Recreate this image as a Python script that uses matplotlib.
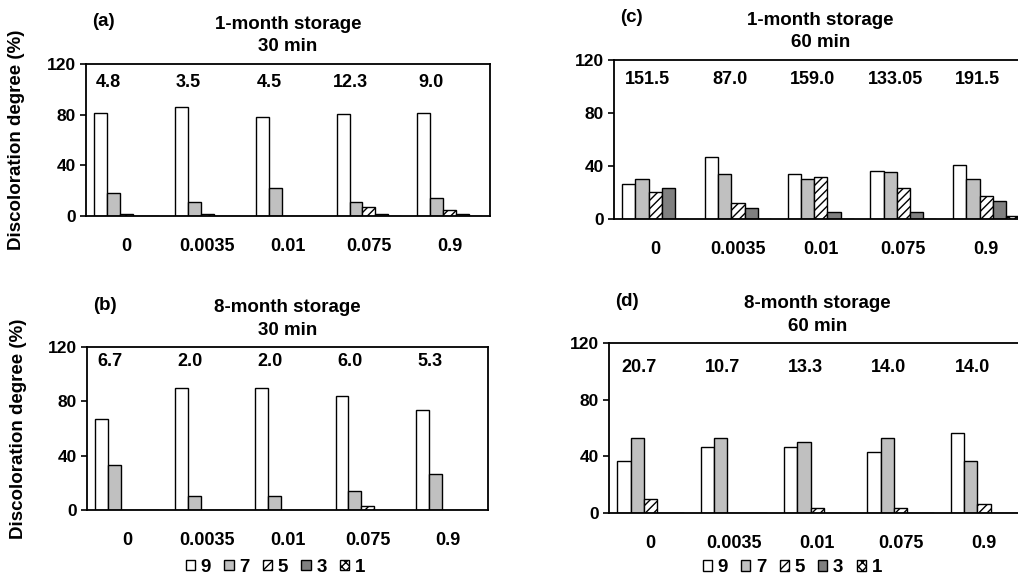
import numpy as np
import matplotlib.pyplot as plt

plt.rcParams['font.family'] = ['Liberation Sans', 'DejaVu Sans']
plt.rcParams['font.weight'] = 'bold'
plt.rcParams['hatch.linewidth'] = 1.0

cats = ['0', '0.0035', '0.01', '0.075', '0.9']
grades = ['9', '7', '5', '3', '1']

# (a) 1-month storage, 30 min
a9 = [81.5, 86, 78, 80.5, 81.5]
a7 = [18, 11, 22, 11, 14]
a5 = [1.5, 1.5, 0, 7, 4.5]
a3 = [0, 0, 0, 1.5, 1.5]
a1 = [0, 0, 0, 0, 0]
a_top = ['4.8', '3.5', '4.5', '12.3', '9.0']

# (b) 8-month storage, 30 min
b9 = [67.3, 90, 90, 83.7, 73.5]
b7 = [33, 10, 10, 14, 26.5]
b5 = [0, 0, 0, 3.3, 0]
b3 = [0, 0, 0, 0, 0]
b1 = [0, 0, 0, 0, 0]
b_top = ['6.7', '2.0', '2.0', '6.0', '5.3']

# (c) 1-month storage, 60 min
c9 = [26.5, 47, 34, 36.5, 40.5]
c7 = [30, 34, 30, 35.5, 30]
c5 = [20, 12, 31.5, 23.5, 17.5]
c3 = [23.5, 8, 5.5, 5.5, 13.5]
c1 = [0, 0, 0, 0, 2]
c_top = ['151.5', '87.0', '159.0', '133.05', '191.5']

# (d) 8-month storage, 60 min
d9 = [36.7, 46.7, 46.7, 43.3, 56.7]
d7 = [53.3, 53.3, 50, 53.3, 36.7]
d5 = [10, 0, 3.3, 3.3, 6.7]
d3 = [0, 0, 0, 0, 0]
d1 = [0, 0, 0, 0, 0]
d_top = ['20.7', '10.7', '13.3', '14.0', '14.0']

faces = ['white', '#c0c0c0', 'white', '#808080', 'white']
hatches = [None, None, '////', None, 'xxxx']

fig = plt.figure(figsize=(10.18, 5.77), dpi=100)


def panel(rect, series, tops, letter, title, txt_dx, txt_y, ylab, leg=None):
    ax = fig.add_axes(rect)
    x = np.arange(len(cats))
    w = 0.16
    for k, vals in enumerate(series):
        ax.bar(x + (k - 2) * w, vals, w, color=faces[k], hatch=hatches[k],
               edgecolor='black', linewidth=1.0, label=grades[k])
    ax.set_xlim(-0.5, 4.5)
    ax.set_ylim(0, 120)
    ax.set_yticks([0, 40, 80, 120])
    ax.set_xticks(x)
    ax.set_xticklabels(cats)
    ax.tick_params(axis='x', length=0, pad=16, labelsize=13)
    ax.tick_params(axis='y', direction='out', length=4, width=1.2, labelsize=12.5)
    for s in ax.spines.values():
        s.set_linewidth(1.3)
    for i, t in enumerate(tops):
        ax.text(i + txt_dx, txt_y, t, ha='center', va='center',
                fontsize=13, fontweight='bold')
    ax.set_title(title, fontsize=13.5, fontweight='bold', pad=9, linespacing=1.45)
    ax.annotate(letter, xy=(0, 1), xycoords='axes fraction',
                xytext=(6, 42), textcoords='offset pixels',
                ha='left', va='center', fontsize=13.5, fontweight='bold')
    if ylab:
        ax.set_ylabel('Discoloration degree (%)', fontsize=13.5, fontweight='bold')
        ax.yaxis.set_label_coords(-0.15, 0.5)
    if leg is not None:
        ax.legend(loc='center', bbox_to_anchor=leg, ncol=5, frameon=False,
                  handlelength=0.5, handleheight=0.5, handletextpad=0.3,
                  columnspacing=0.7, borderpad=0.2,
                  prop={'size': 13.5, 'weight': 'bold'})
    return ax


panel([0.0845, 0.6257, 0.397, 0.2634], [a9, a7, a5, a3, a1], a_top, '(a)',
      '1-month storage\n30 min', -0.23, 105, True)
panel([0.0855, 0.1161, 0.3939, 0.2825], [b9, b7, b5, b3, b1], b_top, '(b)',
      '8-month storage\n30 min', -0.22, 109, True, leg=(0.47, -0.35))
panel([0.6031, 0.6205, 0.4062, 0.2756], [c9, c7, c5, c3, c1], c_top, '(c)',
      '1-month storage\n60 min', -0.1, 105, False)
panel([0.5982, 0.1109, 0.4093, 0.2946], [d9, d7, d5, d3, d1], d_top, '(d)',
      '8-month storage\n60 min', -0.14, 103, False, leg=(0.44, -0.32))

plt.savefig('out.png', dpi=100)
